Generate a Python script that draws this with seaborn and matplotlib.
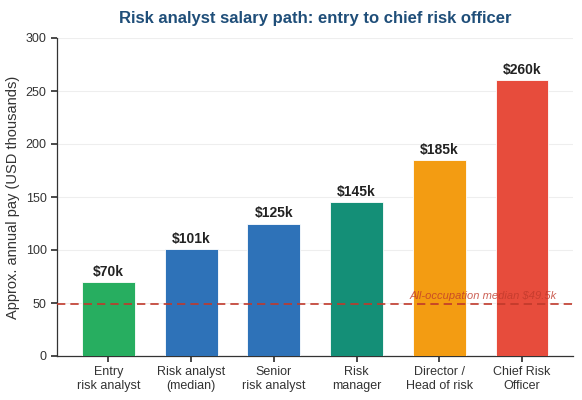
import matplotlib
matplotlib.use("Agg")
import matplotlib.pyplot as plt
import seaborn as sns
import pandas as pd

categories = ["Entry\nrisk analyst", "Risk analyst\n(median)", "Senior\nrisk analyst",
              "Risk\nmanager", "Director /\nHead of risk", "Chief Risk\nOfficer"]
values = [70, 101, 125, 145, 185, 260]
labels = ["$70k", "$101k", "$125k", "$145k", "$185k", "$260k"]
colors = ["#27ae60", "#2e72b8", "#2e72b8", "#148f77", "#f39c12", "#e74c3c"]
median_value = 49.5
median_label = "All-occupation median $49.5k"

sns.set_theme(style="white")
plt.rcParams['font.family'] = ['Liberation Sans', 'DejaVu Sans']

df = pd.DataFrame({"cat": categories, "val": values})
fig, ax = plt.subplots(figsize=(5.82, 4.0), dpi=100)
sns.barplot(data=df, x="cat", y="val", hue="cat", palette=colors, legend=False,
            width=0.64, ax=ax, saturation=1, zorder=3, edgecolor="white", linewidth=0.6)

for i, (v, l) in enumerate(zip(values, labels)):
    ax.text(i, v + 3, l, ha="center", va="bottom", fontsize=10, fontweight="bold", color="#222222")

ax.axhline(median_value, color="#c0392b", linestyle=(0, (5, 3)), linewidth=1.2, zorder=4)
ax.text(5.42, median_value + 2, median_label, ha="right", va="bottom", fontsize=8,
        style="italic", color="#c0392b", alpha=0.8, zorder=5)

ax.set_ylim(0, 300)
ax.set_xlim(-0.62, 5.62)
ax.set_yticks(range(0, 301, 50))
ax.yaxis.grid(True, color="#eeeeee", linewidth=0.8, zorder=0)
ax.set_axisbelow(True)
ax.set_xlabel("")
ax.set_ylabel("Approx. annual pay (USD thousands)", fontsize=10.5, color="#333333")
ax.set_title("Risk analyst salary path: entry to chief risk officer", fontsize=12,
             fontweight="bold", color="#1f4e79", pad=11)
ax.tick_params(axis="both", labelsize=9, colors="#333333", length=4, left=True, bottom=True)
for s in ["top", "right"]:
    ax.spines[s].set_visible(False)
for s in ["left", "bottom"]:
    ax.spines[s].set_color("#333333")
    ax.spines[s].set_linewidth(0.9)

fig.subplots_adjust(left=0.098, right=0.985, top=0.905, bottom=0.11)
fig.savefig("out.png", dpi=100)
